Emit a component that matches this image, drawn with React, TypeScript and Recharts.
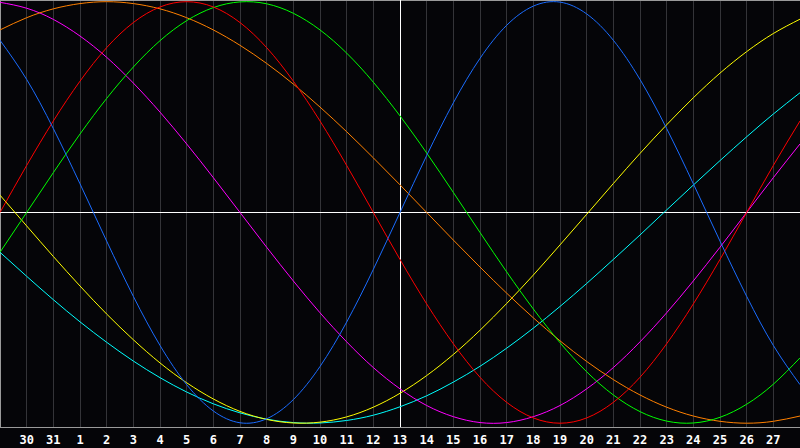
import React from 'react';
import { LineChart, Line, XAxis, YAxis, CartesianGrid, ReferenceLine } from 'recharts';

// day labels, one per column (first one sits on the left edge, last on the right edge)
const dayLabels = [
  '29', '30', '31', '1', '2', '3', '4', '5', '6', '7', '8', '9', '10', '11', '12', '13',
  '14', '15', '16', '17', '18', '19', '20', '21', '22', '23', '24', '25', '26', '27', '28',
];

// biorhythm cycles, value per day (-1 .. 1)
const physical = [
  0.817, 0.631, 0.398, 0.136, -0.136, -0.398, -0.631, -0.817, -0.942, -0.998, -0.979, -0.888, -0.731, -0.52, -0.27, 0,
  0.27, 0.52, 0.731, 0.888, 0.979, 0.998, 0.942, 0.817, 0.631, 0.398, 0.136, -0.136, -0.398, -0.631, -0.817,
];
const emotional = [
  0, 0.223, 0.434, 0.623, 0.782, 0.901, 0.975, 1, 0.975, 0.901, 0.782, 0.623, 0.434, 0.223, 0, -0.223,
  -0.434, -0.623, -0.782, -0.901, -0.975, -1, -0.975, -0.901, -0.782, -0.623, -0.434, -0.223, 0, 0.223, 0.434,
];
const intellectual = [
  -0.189, 0, 0.189, 0.372, 0.541, 0.69, 0.815, 0.91, 0.972, 0.999, 0.99, 0.945, 0.866, 0.756, 0.618, 0.458,
  0.282, 0.095, -0.095, -0.282, -0.458, -0.618, -0.756, -0.866, -0.945, -0.99, -0.999, -0.972, -0.91, -0.815, -0.69,
];
const intuitive = [
  0.997, 0.969, 0.916, 0.837, 0.736, 0.614, 0.476, 0.325, 0.165, 0, -0.165, -0.325, -0.476, -0.614, -0.736, -0.837,
  -0.916, -0.969, -0.997, -0.997, -0.969, -0.916, -0.837, -0.736, -0.614, -0.476, -0.325, -0.165, 0, 0.165, 0.325,
];
const aesthetic = [
  0.082, -0.064, -0.209, -0.349, -0.482, -0.604, -0.714, -0.808, -0.885, -0.944, -0.982, -0.999, -0.995, -0.97, -0.924, -0.858,
  -0.774, -0.674, -0.559, -0.432, -0.297, -0.154, -0.009, 0.137, 0.28, 0.416, 0.544, 0.661, 0.763, 0.849, 0.917,
];
const awareness = [
  0.866, 0.924, 0.966, 0.991, 1, 0.991, 0.966, 0.924, 0.866, 0.793, 0.707, 0.609, 0.5, 0.383, 0.259, 0.131,
  0, -0.131, -0.259, -0.383, -0.5, -0.609, -0.707, -0.793, -0.866, -0.924, -0.966, -0.991, -1, -0.991, -0.966,
];
const spiritual = [
  -0.189, -0.303, -0.414, -0.519, -0.616, -0.705, -0.784, -0.852, -0.908, -0.951, -0.981, -0.997, -0.999, -0.987, -0.962, -0.922,
  -0.87, -0.805, -0.73, -0.644, -0.549, -0.446, -0.337, -0.223, -0.107, 0.012, 0.13, 0.246, 0.359, 0.467, 0.568,
];

const todayIndex = 15;

const data = dayLabels.map((label, i) => ({
  t: i,
  label,
  physical: physical[i],
  emotional: emotional[i],
  intellectual: intellectual[i],
  intuitive: intuitive[i],
  aesthetic: aesthetic[i],
  awareness: awareness[i],
  spiritual: spiritual[i],
}));

const tickValues = dayLabels.map((_, i) => i).filter(i => i > 0 && i < dayLabels.length - 1);

const series = [
  { key: 'spiritual', color: '#00ffff' },
  { key: 'aesthetic', color: '#ffff00' },
  { key: 'intuitive', color: '#ff00ff' },
  { key: 'awareness', color: '#ff8000' },
  { key: 'intellectual', color: '#00ff00' },
  { key: 'emotional', color: '#ff0000' },
  { key: 'physical', color: '#1a6cff' },
];

export default function App() {
  return (
    <div style={{ position: 'absolute', left: 0, top: 0, width: 800, height: 448, background: '#050508' }}>
      <LineChart width={800} height={448} data={data} margin={{ top: 0, right: 0, left: 0, bottom: 0 }}>
        <CartesianGrid horizontal={false} stroke="#343438" strokeWidth={1} shapeRendering="crispEdges" />
        <XAxis
          dataKey="t"
          type="number"
          domain={[0, dayLabels.length - 1]}
          ticks={tickValues}
          tickFormatter={(v: number) => dayLabels[v]}
          interval={0}
          height={21}
          tickLine={false}
          axisLine={{ stroke: '#9a9a9a', shapeRendering: 'crispEdges' }}
          tick={{ fill: '#ffffff', fontSize: 12, fontWeight: 'bold', fontFamily: 'DejaVu Sans Mono' }}
        />
        <YAxis hide domain={[-1.018, 1.008]} />
        <ReferenceLine x={0} stroke="#9a9a9a" shapeRendering="crispEdges" />
        <ReferenceLine y={1.008} stroke="#9a9a9a" shapeRendering="crispEdges" />
        <ReferenceLine y={0} stroke="#ffffff" shapeRendering="crispEdges" />
        <ReferenceLine x={todayIndex} stroke="#ffffff" shapeRendering="crispEdges" />
        {series.map(s => (
          <Line
            key={s.key}
            type="natural"
            dataKey={s.key}
            stroke={s.color}
            strokeWidth={1}
            dot={false}
            activeDot={false}
            isAnimationActive={false}
          />
        ))}
      </LineChart>
    </div>
  );
}
